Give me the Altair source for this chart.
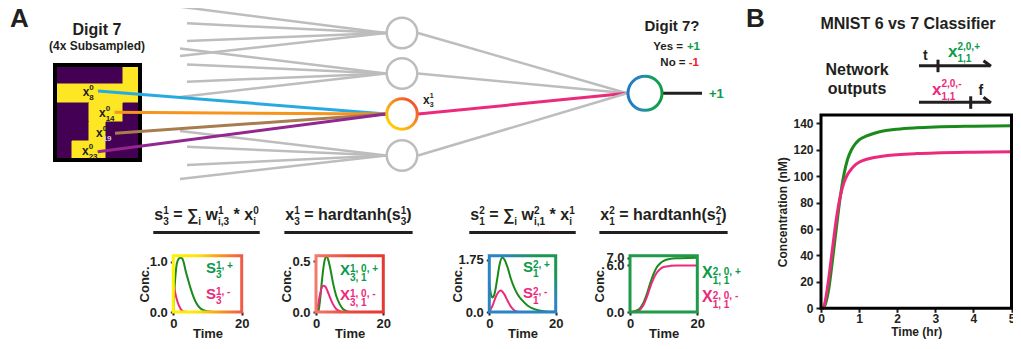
import altair as alt
import pandas as pd

# ---------------- style ----------------
FONT = "Liberation Sans"
DARK = "#231f20"
GRAY = "#bdbdbd"
GREEN_LINE = "#1a8a1a"
PINK = "#ec2a7b"
GREEN_TXT = "#0a9a48"
RED_TXT = "#ed1c24"
PURPLE = "#440154"
YELLOW = "#fde725"

# ---------------- data ----------------
# 5x5 subsampled digit (1 = yellow pixel)
DIGIT = [
    [0, 0, 0, 0, 1],
    [1, 1, 1, 1, 1],
    [0, 0, 1, 1, 0],
    [0, 0, 1, 0, 0],
    [0, 1, 1, 0, 0],
]

# mini chart 1 : s^1_3
S1_T_POS = [0, 0.3, 0.6, 1.0, 1.5, 2.0, 2.5, 3.0, 3.6, 4.5, 5.2, 5.9, 6.8, 7.8, 9.0, 10.5, 13, 20]
S1_POS = [0, 0.4, 0.7, 0.95, 1.05, 1.08, 1.07, 1.0, 0.82, 0.6, 0.44, 0.3, 0.17, 0.08, 0.03, 0.01, 0, 0]
S1_T_NEG = [0, 0.5, 1.0, 1.5, 2.0, 2.5, 3.0, 4.0, 20]
S1_NEG = [0.56, 0.4, 0.26, 0.15, 0.08, 0.03, 0.01, 0, 0]

# mini chart 2 : x^1_3
X1_T_POS = [0, 0.7, 1.2, 1.8, 2.4, 3.0, 3.6, 4.3, 5.1, 6.0, 7.0, 8.0, 9.0, 10, 20]
X1_POS = [0, 0, 0.12, 0.32, 0.48, 0.55, 0.52, 0.42, 0.28, 0.16, 0.08, 0.03, 0.01, 0, 0]
X1_T_NEG = [0, 0.3, 1.0, 1.6, 2.2, 2.8, 3.5, 4.2, 5.0, 6.0, 7.0, 8, 20]
X1_NEG = [0, 0.02, 0.14, 0.23, 0.26, 0.25, 0.2, 0.14, 0.08, 0.03, 0.01, 0, 0]

# mini chart 3 : s^2_1
S2_T_POS = [0, 0.5, 1.0, 1.6, 2.3, 3.1, 3.9, 4.6, 5.5, 6.5, 7.5, 8.5, 10, 11.5, 13, 15, 17, 20]
S2_POS = [0.95, 0.6, 0.49, 0.62, 1.05, 1.6, 1.83, 1.76, 1.5, 1.12, 0.82, 0.6, 0.38, 0.22, 0.12, 0.05, 0.02, 0.01]
S2_T_NEG = [0, 1, 2, 3, 3.5, 4.5, 5.5, 6.5, 7.5, 8.5, 9.5, 20]
S2_NEG = [0, 0.22, 0.52, 0.7, 0.72, 0.6, 0.38, 0.18, 0.06, 0.01, 0, 0]

# mini chart 4 : x^2_1
X2_T = [0, 1, 2, 3, 4, 5, 6, 7, 8, 9, 10, 12, 14, 17, 20]
X2_POS = [0, 0.05, 0.2, 0.5, 1.2, 2.3, 3.7, 4.9, 5.8, 6.3, 6.6, 6.85, 6.93, 6.97, 6.98]
X2_NEG = [0, 0.02, 0.08, 0.3, 0.9, 1.9, 3.2, 4.3, 5.1, 5.55, 5.8, 5.95, 5.99, 6.0, 6.0]

# panel B : network outputs (nM) vs time (hr)
B_TIME = [0, 0.05, 0.1, 0.2, 0.3, 0.4, 0.5, 0.6, 0.7, 0.8, 0.9, 1.0, 1.2, 1.4, 1.7, 2.0, 2.5, 3.0, 4.0, 5.0]
B_POS = [0, 0, 2, 14, 36, 60, 83, 101, 113, 120, 124.5, 127.5, 130.5, 132.5, 134.5, 135.6, 136.6, 137.2, 137.8, 138.2]
B_NEG = [0, 0, 4, 22, 45, 67, 84, 95, 101.5, 105.5, 108.5, 110.5, 112.8, 114.2, 115.5, 116.3, 117.1, 117.6, 118.1, 118.4]

# ---------------- layout (page pixels) ----------------
OX, OY = 8, 8
W, H = 1005, 333
PXX = alt.Scale(domain=[OX, OX + W], range=[0, W], nice=False, zero=False)
PXY = alt.Scale(domain=[OY, OY + H], range=[0, H], nice=False, zero=False)

HID_X = 402
HID_Y = [33, 73.5, 114, 155.5]
HID_R = 16
OUT_X, OUT_Y, OUT_R = 645, 93.3, 18
FAN = {
    0: [(180, 6.7), (187, 23.3), (187, 41), (180, 56)],
    1: [(180, 48.5), (187, 64.5), (187, 81.7), (180, 97)],
    3: [(180, 131), (187, 146.7), (187, 165), (180, 179)],
}
INPUTS = [(98, 91, "#27aae1"), (114.5, 112.3, "#f7941d"), (115, 133.3, "#a97c50"), (97.7, 151.7, "#92278f")]

# Arial/Liberation Sans Bold advance widths (em)
AW = {' ': .278, '!': .333, '(': .333, ')': .333, '*': .389, '+': .584, ',': .278, '-': .333, '.': .278,
      '=': .584, '?': .611, '∑': .713}
for d in "0123456789":
    AW[d] = .556
AW.update(dict(zip("abcdefghijklmnopqrstuvwxyz",
                   [.556, .611, .556, .611, .556, .333, .611, .611, .278, .278, .556, .278, .889, .611, .611,
                    .611, .611, .389, .556, .333, .611, .556, .778, .556, .556, .5])))
AW.update(dict(zip("ABCDEFGHIJKLMNOPQRSTUVWXYZ",
                   [.722, .722, .722, .722, .667, .611, .778, .722, .278, .556, .722, .611, .833, .722, .778,
                    .667, .778, .722, .667, .611, .722, .667, .944, .667, .667, .611])))


def tw(s, size):
    return sum(AW.get(ch, 0.6) for ch in s) * size


def rich(x, y, segs, size, ssize=None, align="left", sup=-6, sub=4, color=DARK):
    ssize = ssize or size
    rows, cur = [], 0.0
    for seg in segs:
        if seg[0] == "n":
            txt = seg[1]
            col = seg[2] if len(seg) > 2 else color
            lead = len(txt) - len(txt.lstrip())
            if txt.strip():
                rows.append([cur + tw(txt[:lead], size), 0, txt.strip(), size, col])
            cur += tw(txt, size)
        else:
            a, b = seg[1], seg[2]
            ca = seg[3] if len(seg) > 3 else color
            cb = seg[4] if len(seg) > 4 else ca
            if a:
                rows.append([cur, sup, a, ssize, ca])
            if b:
                rows.append([cur, sub, b, ssize, cb])
            cur += max(tw(a, ssize), tw(b, ssize))
    shift = {"left": 0, "center": -cur / 2, "right": -cur}[align]
    return [dict(x=x + shift + r[0], y=y + r[1], text=r[2], size=r[3], color=r[4]) for r in rows], cur


texts = []
rules = []


def add(res):
    texts.extend(res[0])
    return res[1]


# panel A headers
add(rich(10, 27, [("n", "A")], 26))
add(rich(97, 35, [("n", "Digit 7")], 16, align="center"))
add(rich(97, 49.5, [("n", "(4x Subsampled)")], 12, align="center"))
# digit pixel labels
add(rich(82.7, 96, [("n", "x"), ("ss", "0", "8")], 12, 8, sup=-6, sub=4))
add(rich(99, 117, [("n", "x"), ("ss", "0", "14")], 12, 8, sup=-6, sub=4))
add(rich(96, 137, [("n", "x"), ("ss", "0", "19", DARK, "#cfc8de")], 12, 8, sup=-6, sub=4))
add(rich(82, 155, [("n", "x"), ("ss", "0", "23")], 12, 8, sup=-6, sub=4))
add(rich(423, 104, [("n", "x"), ("ss", "1", "3")], 12, 7, sup=-6, sub=3))
# output header
add(rich(672, 31, [("n", "Digit 7?")], 15, align="center"))
add(rich(700, 50, [("n", "Yes = "), ("n", "+1", GREEN_TXT)], 11.5, align="right"))
add(rich(699, 66, [("n", "No = "), ("n", "-1", RED_TXT)], 11.5, align="right"))
add(rich(709, 97.5, [("n", "+1", GREEN_TXT)], 13))

# equations with underlines
EQS = [
    (206.5, [("n", "s"), ("ss", "1", "3"), ("n", " = "), ("n", "∑"), ("ss", "", "i"), ("n", " w"),
             ("ss", "1", "i,3"), ("n", " * "), ("n", "x"), ("ss", "0", "i")]),
    (348.5, [("n", "x"), ("ss", "1", "3"), ("n", " = hardtanh("), ("n", "s"), ("ss", "1", "3"), ("n", ")")]),
    (522.5, [("n", "s"), ("ss", "2", "1"), ("n", " = "), ("n", "∑"), ("ss", "", "i"), ("n", " w"),
             ("ss", "2", "i,1"), ("n", " * "), ("n", "x"), ("ss", "1", "i")]),
    (663.5, [("n", "x"), ("ss", "2", "1"), ("n", " = hardtanh("), ("n", "s"), ("ss", "2", "1"), ("n", ")")]),
]
for cx, segs in EQS:
    w = add(rich(cx, 220, segs, 16, 10, align="center", sup=-6, sub=5))
    rules.append(dict(x=cx - w / 2 - 1, y=232.5, x2=cx + w / 2 + 1, y2=232.5, color=DARK, w=3))

# mini chart legends
LEG = [
    (206, 272.5, 298.5, "S", ("1, +", "3"), ("1, -", "3"), 15),
    (340, 275, 300, "X", ("1, 0, +", "3, 1"), ("1, 0, -", "3, 1"), 15),
    (523, 271.7, 298.3, "S", ("2, +", "1"), ("2, -", "1"), 15),
    (702, 278.3, 302, "X", ("2, 0, +", "1, 1"), ("2, 0, -", "1, 1"), 16),
]
for lx, yp, yn, letter, sp, sn, fs in LEG:
    add(rich(lx, yp, [("n", letter, GREEN_TXT), ("ss", sp[0], sp[1], GREEN_TXT)], fs, 10, sup=-3.5, sub=5.5))
    add(rich(lx, yn, [("n", letter, PINK), ("ss", sn[0], sn[1], PINK)], fs, 10, sup=-3.5, sub=5.5))

# panel B headers
add(rich(746, 27, [("n", "B")], 26))
add(rich(908, 28.5, [("n", "MNIST 6 vs 7 Classifier")], 16, align="center"))
add(rich(857, 75, [("n", "Network")], 16, align="center"))
add(rich(857, 93.5, [("n", "outputs")], 16, align="center"))
add(rich(923, 60, [("n", "t")], 14))
add(rich(978.5, 95, [("n", "f")], 14))
add(rich(948, 57, [("n", "x", GREEN_TXT), ("ss", "2,0,+", "1,1", GREEN_TXT)], 17, 10, sup=-7.5, sub=5))
add(rich(932, 94.5, [("n", "x", PINK), ("ss", "2,0,-", "1,1", PINK)], 17, 10, sup=-7.5, sub=5))

# gene-style arrows in panel B
for ly, tick_x in [(65.7, 938), (102.3, 970.7)]:
    rules.append(dict(x=919, y=ly, x2=990, y2=ly, color=DARK, w=3))
    rules.append(dict(x=tick_x, y=ly - 6, x2=tick_x, y2=ly + 6.5, color=DARK, w=3))
    rules.append(dict(x=983.5, y=ly - 5, x2=991, y2=ly + 0.6, color=DARK, w=3))

# network connections
for node, starts in FAN.items():
    for sx0, sy0 in starts:
        rules.append(dict(x=sx0, y=sy0, x2=HID_X - HID_R, y2=HID_Y[node], color=GRAY, w=2.5))
for sx0, sy0, col in INPUTS:
    rules.append(dict(x=sx0, y=sy0, x2=HID_X - HID_R, y2=HID_Y[2], color=col, w=3))
for i, hy in enumerate(HID_Y):
    rules.append(dict(x=HID_X + HID_R, y=hy, x2=OUT_X - OUT_R, y2=OUT_Y,
                      color=PINK if i == 2 else GRAY, w=3 if i == 2 else 2.5))
rules.append(dict(x=OUT_X + OUT_R, y=OUT_Y, x2=702, y2=OUT_Y, color=DARK, w=3))


def lg(stops, x1=0, y1=0, x2=1, y2=0):
    return alt.LinearGradient(gradient="linear",
                              stops=[alt.GradientStop(color=c, offset=o) for o, c in stops],
                              x1=x1, y1=y1, x2=x2, y2=y2)


layers = []

# ---- digit image ----
cells = pd.DataFrame([dict(c=c, c2=c + 1, r=r, r2=r + 1, col=YELLOW if v else PURPLE)
                      for r, row in enumerate(DIGIT) for c, v in enumerate(row)])
dxs = alt.Scale(domain=[0, 5], range=[55 - OX, 140 - OX], nice=False, zero=False)
dys = alt.Scale(domain=[0, 5], range=[65 - OY, 160 - OY], nice=False, zero=False)
layers.append(alt.Chart(cells).mark_rect(strokeWidth=1).encode(
    x=alt.X("c:Q", scale=dxs, axis=None), x2="c2:Q",
    y=alt.Y("r:Q", scale=dys, axis=None), y2="r2:Q",
    color=alt.Color("col:N", scale=None), stroke=alt.Stroke("col:N", scale=None)))
layers.append(alt.Chart(pd.DataFrame({"a": [0], "b": [5]})).mark_rect(
    fillOpacity=0, stroke="#000000", strokeWidth=4).encode(
    x=alt.X("a:Q", scale=dxs, axis=None), x2="b:Q",
    y=alt.Y("a:Q", scale=dys, axis=None), y2="b:Q"))

# ---- lines of the diagram ----
layers.append(alt.Chart(pd.DataFrame(rules)).mark_rule(strokeCap="butt").encode(
    x=alt.X("x:Q", scale=PXX, axis=None), x2="x2:Q",
    y=alt.Y("y:Q", scale=PXY, axis=None), y2="y2:Q",
    color=alt.Color("color:N", scale=None),
    strokeWidth=alt.StrokeWidth("w:Q", scale=None)))

# ---- nodes ----
gray_nodes = pd.DataFrame({"x": [HID_X] * 3, "y": [HID_Y[0], HID_Y[1], HID_Y[3]]})
layers.append(alt.Chart(gray_nodes).mark_point(
    shape="circle", size=930, filled=True, fill="white", stroke=GRAY, strokeWidth=2.5, opacity=1).encode(
    x=alt.X("x:Q", scale=PXX, axis=None), y=alt.Y("y:Q", scale=PXY, axis=None)))
layers.append(alt.Chart(pd.DataFrame({"x": [HID_X], "y": [HID_Y[2]]})).mark_point(
    shape="circle", size=930, filled=True, fill="white", strokeWidth=3, opacity=1,
    stroke=lg([(0, "#ffe000"), (0.45, "#f9a11b"), (1, "#ee3d34")], 0, 1, 1, 0)).encode(
    x=alt.X("x:Q", scale=PXX, axis=None), y=alt.Y("y:Q", scale=PXY, axis=None)))
layers.append(alt.Chart(pd.DataFrame({"x": [OUT_X], "y": [OUT_Y]})).mark_point(
    shape="circle", size=1156, filled=True, fill="white", strokeWidth=3, opacity=1,
    stroke=lg([(0, "#2279c0"), (0.35, "#2a86be"), (0.75, "#14a05a"), (1, "#0f9a48")])).encode(
    x=alt.X("x:Q", scale=PXX, axis=None), y=alt.Y("y:Q", scale=PXY, axis=None)))

# ---- mini charts ----
FT, FB = 255.7, 312.0
MINI = [
    dict(x0=173.3, x1=241.7, ymax=1.12, yvals=[0, 1.0], yexpr="format(datum.value, '.1f')", cx=144,
         stroke=lg([(0, "#fff200"), (0.35, "#fde30f"), (0.7, "#f7941d"), (1, "#ef5a4a")]),
         tp=S1_T_POS, p=S1_POS, tn=S1_T_NEG, n=S1_NEG),
    dict(x0=316, x1=383.3, ymax=0.556, yvals=[0, 0.5], yexpr="format(datum.value, '.1f')", cx=286,
         stroke=lg([(0, "#f37a6a"), (0.5, "#e9473d"), (1, "#e53935")]),
         tp=X1_T_POS, p=X1_POS, tn=X1_T_NEG, n=X1_NEG),
    dict(x0=489.3, x1=555.7, ymax=1.894, yvals=[0, 1.75],
         yexpr="datum.value == 0 ? '0.0' : format(datum.value, '.2f')", cx=457.5,
         stroke=lg([(0, "#2b83c6"), (0.6, "#2b83c6"), (0.85, "#1a9850"), (1, "#1a9850")], 0, 1, 1, 0),
         tp=S2_T_POS, p=S2_POS, tn=S2_T_NEG, n=S2_NEG),
    dict(x0=630, x1=697.3, ymax=7.26, yvals=[0, 6.0, 7.0], yexpr="format(datum.value, '.1f')", cx=599.5,
         stroke="#1e9a48", tp=X2_T, p=X2_POS, tn=X2_T, n=X2_NEG),
]
for m in MINI:
    xs = alt.Scale(domain=[0, 20], range=[m["x0"] - OX, m["x1"] - OX], nice=False, zero=False)
    ys = alt.Scale(domain=[0, m["ymax"]], range=[FB - OY, FT - OY], nice=False, zero=False)
    yaxis = alt.Axis(orient="left", offset=-(m["x0"] - OX), values=m["yvals"], labelExpr=m["yexpr"],
                     domain=False, grid=False, tickSize=3, tickWidth=2, tickColor=DARK,
                     labelFont=FONT, labelFontWeight="bold", labelFontSize=13, labelColor=DARK,
                     labelPadding=3, labelFlush=False, labelOverlap=False,
                     title="Conc.", titleFont=FONT, titleFontWeight="bold", titleFontSize=13,
                     titleColor=DARK, titleAngle=270, titleAlign="center", titleBaseline="middle",
                     titleX=m["cx"] - m["x0"], titleY=(FT + FB) / 2 - OY)
    xaxis = alt.Axis(orient="bottom", offset=(FB - OY) - H, values=[0, 20], format="d",
                     domain=False, grid=False, tickSize=3, tickWidth=2, tickColor=DARK,
                     labelFont=FONT, labelFontWeight="bold", labelFontSize=13, labelColor=DARK,
                     labelPadding=2, labelFlush=False, labelOverlap=False,
                     title="Time", titleFont=FONT, titleFontWeight="bold", titleFontSize=13,
                     titleColor=DARK, titleAngle=0, titleAlign="center", titleBaseline="alphabetic",
                     titleX=(m["x0"] + m["x1"]) / 2 - OX, titleY=337 - FB)
    df = pd.DataFrame({
        "t": m["tp"] + m["tn"], "v": m["p"] + m["n"],
        "s": ["a_pos"] * len(m["tp"]) + ["b_neg"] * len(m["tn"]),
        "c": [GREEN_LINE] * len(m["tp"]) + [PINK] * len(m["tn"]),
    })
    layers.append(alt.Chart(df).mark_line(interpolate="monotone", strokeWidth=2).encode(
        x=alt.X("t:Q", scale=xs, axis=xaxis), y=alt.Y("v:Q", scale=ys, axis=yaxis),
        color=alt.Color("c:N", scale=None), detail="s:N"))
    layers.append(alt.Chart(pd.DataFrame({"a": [0], "b": [20], "c": [0], "d": [m["ymax"]]})).mark_rect(
        fillOpacity=0, stroke=m["stroke"], strokeWidth=3).encode(
        x=alt.X("a:Q", scale=xs, axis=None), x2="b:Q",
        y=alt.Y("c:Q", scale=ys, axis=None), y2="d:Q"))

# ---- panel B plot ----
BX0, BX1, BT, BB, BYMAX = 821, 1011.5, 115, 308.3, 146.3
bxs = alt.Scale(domain=[0, 5], range=[BX0 - OX, BX1 - OX], nice=False, zero=False)
bys = alt.Scale(domain=[0, BYMAX], range=[BB - OY, BT - OY], nice=False, zero=False)
byaxis = alt.Axis(orient="left", offset=-(BX0 - OX), values=list(range(0, 141, 20)),
                  domain=False, grid=False, tickSize=5, tickWidth=2, tickColor=DARK,
                  labelFont=FONT, labelFontWeight="bold", labelFontSize=12, labelColor=DARK,
                  labelPadding=3, labelFlush=False, labelOverlap=False,
                  title="Concentration (nM)", titleFont=FONT, titleFontWeight="bold", titleFontSize=12,
                  titleColor=DARK, titleAngle=270, titleAlign="center", titleBaseline="middle",
                  titleX=782.5 - BX0, titleY=(BT + BB) / 2 - OY)
bxaxis = alt.Axis(orient="bottom", offset=(BB - OY) - H, values=[0, 1, 2, 3, 4, 5], format="d",
                  domain=False, grid=False, tickSize=4, tickWidth=2, tickColor=DARK,
                  labelFont=FONT, labelFontWeight="bold", labelFontSize=12, labelColor=DARK,
                  labelPadding=1, labelFlush=False, labelOverlap=False,
                  title="Time (hr)", titleFont=FONT, titleFontWeight="bold", titleFontSize=12,
                  titleColor=DARK, titleAngle=0, titleAlign="center", titleBaseline="alphabetic",
                  titleX=(BX0 + BX1) / 2 - OX, titleY=335.5 - BB)
bdf = pd.DataFrame({
    "t": B_TIME + B_TIME, "v": B_POS + B_NEG,
    "s": ["a_pos"] * len(B_TIME) + ["b_neg"] * len(B_TIME),
    "c": [GREEN_LINE] * len(B_TIME) + [PINK] * len(B_TIME),
})
layers.append(alt.Chart(bdf).mark_line(interpolate="monotone", strokeWidth=3).encode(
    x=alt.X("t:Q", scale=bxs, axis=bxaxis), y=alt.Y("v:Q", scale=bys, axis=byaxis),
    color=alt.Color("c:N", scale=None), detail="s:N"))
layers.append(alt.Chart(pd.DataFrame({"a": [0], "b": [5], "c": [0], "d": [BYMAX]})).mark_rect(
    fillOpacity=0, stroke="#000000", strokeWidth=3).encode(
    x=alt.X("a:Q", scale=bxs, axis=None), x2="b:Q",
    y=alt.Y("c:Q", scale=bys, axis=None), y2="d:Q"))

# ---- all text ----
layers.append(alt.Chart(pd.DataFrame(texts)).mark_text(
    align="left", baseline="alphabetic", font=FONT, fontWeight="bold").encode(
    x=alt.X("x:Q", scale=PXX, axis=None), y=alt.Y("y:Q", scale=PXY, axis=None),
    text="text:N", size=alt.Size("size:Q", scale=None), color=alt.Color("color:N", scale=None)))

chart = alt.layer(*layers).resolve_scale(x="independent", y="independent").properties(
    width=W, height=H, padding=0, background="white",
    autosize=alt.AutoSizeParams(type="none")).configure_view(strokeWidth=0)

chart.save("out.html", embed_options={"renderer": "svg", "actions": False})
